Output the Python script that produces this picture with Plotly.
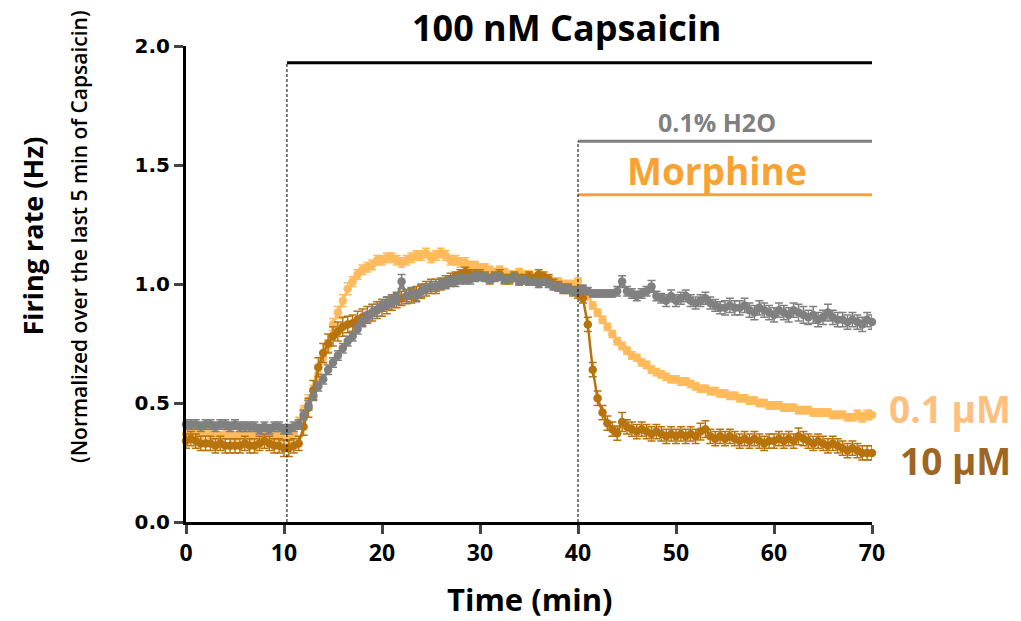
import plotly.graph_objects as go

# ---------------- data ----------------
step = 0.5
n_points = 141
time_min = [i * step for i in range(n_points)]

h2o = [
    0.41, 0.41, 0.41, 0.40, 0.41, 0.41, 0.40, 0.41, 0.41, 0.40,
    0.41, 0.40, 0.40, 0.40, 0.40, 0.39, 0.40, 0.39, 0.40, 0.40,
    0.39, 0.39, 0.40, 0.41, 0.45, 0.49, 0.53, 0.57, 0.60, 0.64,
    0.67, 0.70, 0.73, 0.76, 0.78, 0.81, 0.84, 0.86, 0.88, 0.89,
    0.91, 0.92, 0.93, 0.94, 1.01, 0.95, 0.96, 0.95, 0.97, 0.98,
    0.99, 0.99, 1.00, 1.00, 1.01, 1.01, 1.02, 1.02, 1.02, 1.03,
    1.03, 1.03, 1.02, 1.03, 1.03, 1.02, 1.02, 1.03, 1.01, 1.02,
    1.01, 1.01, 1.00, 1.01, 1.00, 0.99, 0.99, 0.98, 0.98, 0.97,
    0.97, 0.98, 0.97, 0.96, 0.96, 0.96, 0.96, 0.96, 0.97, 1.01,
    0.97, 0.96, 0.95, 0.96, 0.97, 0.99, 0.95, 0.94, 0.93, 0.95,
    0.93, 0.94, 0.95, 0.93, 0.92, 0.93, 0.94, 0.92, 0.91, 0.90,
    0.90, 0.91, 0.90, 0.90, 0.91, 0.89, 0.88, 0.90, 0.89, 0.88,
    0.87, 0.89, 0.88, 0.87, 0.89, 0.88, 0.87, 0.86, 0.87, 0.85,
    0.86, 0.88, 0.86, 0.85, 0.85, 0.84, 0.85, 0.84, 0.83, 0.85,
    0.84,
]
h2o_err = [
    0.02, 0.02, 0.02, 0.02, 0.02, 0.02, 0.02, 0.02, 0.02, 0.02,
    0.02, 0.02, 0.02, 0.02, 0.02, 0.02, 0.02, 0.02, 0.02, 0.02,
    0.02, 0.02, 0.02, 0.02, 0.02, 0.02, 0.02, 0.02, 0.02, 0.02,
    0.02, 0.02, 0.02, 0.02, 0.02, 0.02, 0.02, 0.02, 0.025, 0.025,
    0.025, 0.025, 0.025, 0.025, 0.03, 0.025, 0.025, 0.025, 0.025, 0.02,
    0.02, 0.02, 0.02, 0.02, 0.02, 0.02, 0.02, 0.02, 0.02, 0.02,
    0.015, 0.015, 0.015, 0.015, 0.015, 0.015, 0.015, 0.015, 0.015, 0.015,
    0.015, 0.015, 0.015, 0.015, 0.015, 0.015, 0.015, 0.015, 0.015, 0.015,
    0.015, 0.015, 0.015, 0.015, 0.015, 0.015, 0.015, 0.015, 0.02, 0.025,
    0.02, 0.02, 0.02, 0.02, 0.02, 0.025, 0.02, 0.02, 0.025, 0.025,
    0.025, 0.025, 0.025, 0.025, 0.025, 0.025, 0.025, 0.025, 0.025, 0.025,
    0.03, 0.03, 0.03, 0.03, 0.03, 0.03, 0.03, 0.03, 0.03, 0.03,
    0.03, 0.03, 0.03, 0.03, 0.03, 0.035, 0.035, 0.03, 0.035, 0.03,
    0.03, 0.035, 0.03, 0.03, 0.03, 0.03, 0.03, 0.03, 0.03, 0.03,
    0.03,
]

morph_01 = [
    0.37, 0.38, 0.37, 0.37, 0.38, 0.37, 0.37, 0.36, 0.37, 0.37,
    0.36, 0.37, 0.37, 0.36, 0.37, 0.36, 0.36, 0.37, 0.36, 0.36,
    0.36, 0.35, 0.37, 0.42, 0.47, 0.51, 0.55, 0.62, 0.69, 0.74,
    0.83, 0.88, 0.93, 0.98, 1.01, 1.04, 1.06, 1.07, 1.08, 1.10,
    1.10, 1.11, 1.11, 1.10, 1.09, 1.10, 1.11, 1.12, 1.12, 1.13,
    1.11, 1.12, 1.13, 1.12, 1.10, 1.10, 1.09, 1.09, 1.08, 1.08,
    1.07, 1.07, 1.06, 1.05, 1.06, 1.05, 1.04, 1.04, 1.05, 1.04,
    1.04, 1.03, 1.03, 1.02, 1.02, 1.01, 1.01, 1.00, 1.00, 1.00,
    1.01, 0.98, 0.95, 0.91, 0.88, 0.85, 0.82, 0.79, 0.76, 0.74,
    0.72, 0.70, 0.69, 0.67, 0.66, 0.64, 0.63, 0.62, 0.61, 0.60,
    0.60, 0.59, 0.59, 0.58, 0.57, 0.56, 0.56, 0.55, 0.55, 0.54,
    0.54, 0.53, 0.53, 0.52, 0.52, 0.51, 0.51, 0.50, 0.50, 0.49,
    0.49, 0.49, 0.48, 0.48, 0.48, 0.47, 0.47, 0.47, 0.46, 0.46,
    0.46, 0.46, 0.45, 0.45, 0.45, 0.44, 0.44, 0.45, 0.44, 0.45,
    0.45,
]
morph_01_err = [
    0.02, 0.02, 0.02, 0.02, 0.02, 0.02, 0.02, 0.02, 0.02, 0.02,
    0.02, 0.02, 0.02, 0.02, 0.02, 0.02, 0.02, 0.02, 0.02, 0.02,
    0.02, 0.02, 0.02, 0.02, 0.02, 0.025, 0.025, 0.025, 0.025, 0.025,
    0.025, 0.025, 0.025, 0.025, 0.02, 0.02, 0.02, 0.02, 0.02, 0.02,
    0.02, 0.02, 0.02, 0.02, 0.02, 0.02, 0.02, 0.02, 0.02, 0.02,
    0.02, 0.02, 0.02, 0.02, 0.02, 0.02, 0.02, 0.02, 0.015, 0.015,
    0.015, 0.015, 0.015, 0.015, 0.015, 0.015, 0.015, 0.015, 0.015, 0.015,
    0.015, 0.015, 0.015, 0.015, 0.015, 0.015, 0.015, 0.015, 0.015, 0.015,
    0.015, 0.015, 0.015, 0.015, 0.015, 0.015, 0.015, 0.015, 0.015, 0.015,
    0.015, 0.015, 0.015, 0.015, 0.015, 0.015, 0.015, 0.015, 0.015, 0.015,
    0.015, 0.015, 0.015, 0.015, 0.015, 0.015, 0.015, 0.015, 0.015, 0.015,
    0.015, 0.015, 0.015, 0.015, 0.015, 0.015, 0.015, 0.015, 0.015, 0.015,
    0.015, 0.015, 0.015, 0.015, 0.015, 0.015, 0.015, 0.015, 0.015, 0.015,
    0.015, 0.015, 0.015, 0.015, 0.015, 0.015, 0.015, 0.02, 0.02, 0.02,
    0.02,
]

morph_10 = [
    0.34, 0.35, 0.34, 0.33, 0.33, 0.33, 0.32, 0.33, 0.32, 0.32,
    0.32, 0.32, 0.33, 0.32, 0.32, 0.33, 0.34, 0.33, 0.32, 0.32,
    0.31, 0.31, 0.32, 0.33, 0.40, 0.48, 0.555, 0.65, 0.71, 0.75,
    0.78, 0.80, 0.82, 0.83, 0.835, 0.85, 0.86, 0.87, 0.88, 0.89,
    0.90, 0.91, 0.92, 0.93, 0.94, 0.947, 0.95, 0.96, 0.97, 0.98,
    0.99, 0.99, 1.00, 1.01, 1.02, 1.03, 1.04, 1.05, 1.04, 1.04,
    1.04, 1.03, 1.02, 1.03, 1.04, 1.02, 1.02, 1.03, 1.02, 1.02,
    1.03, 1.02, 1.04, 1.03, 1.02, 1.00, 0.99, 0.98, 0.98, 0.97,
    0.96, 0.94, 0.83, 0.64, 0.52, 0.46, 0.415, 0.39, 0.373, 0.42,
    0.40, 0.39, 0.38, 0.39, 0.38, 0.37, 0.38, 0.37, 0.36, 0.37,
    0.36, 0.37, 0.36, 0.37, 0.36, 0.38, 0.39, 0.36, 0.35, 0.36,
    0.35, 0.36, 0.35, 0.34, 0.35, 0.34, 0.35, 0.34, 0.33, 0.34,
    0.34, 0.35, 0.34, 0.35, 0.34, 0.36, 0.35, 0.34, 0.33, 0.34,
    0.33, 0.32, 0.33, 0.32, 0.31, 0.30, 0.31, 0.30, 0.29, 0.29,
    0.29,
]
morph_10_err = [
    0.03, 0.03, 0.03, 0.03, 0.03, 0.03, 0.03, 0.03, 0.03, 0.03,
    0.03, 0.03, 0.03, 0.03, 0.03, 0.03, 0.03, 0.03, 0.03, 0.03,
    0.035, 0.035, 0.03, 0.03, 0.035, 0.04, 0.04, 0.04, 0.04, 0.04,
    0.04, 0.04, 0.04, 0.035, 0.035, 0.035, 0.035, 0.035, 0.035, 0.035,
    0.035, 0.035, 0.03, 0.03, 0.03, 0.03, 0.03, 0.03, 0.03, 0.03,
    0.03, 0.03, 0.025, 0.025, 0.025, 0.02, 0.02, 0.02, 0.02, 0.02,
    0.02, 0.02, 0.02, 0.02, 0.02, 0.02, 0.02, 0.02, 0.02, 0.02,
    0.02, 0.02, 0.02, 0.02, 0.02, 0.02, 0.02, 0.02, 0.02, 0.02,
    0.02, 0.02, 0.03, 0.03, 0.03, 0.03, 0.03, 0.03, 0.03, 0.04,
    0.03, 0.03, 0.03, 0.03, 0.03, 0.03, 0.03, 0.03, 0.03, 0.03,
    0.03, 0.03, 0.03, 0.03, 0.03, 0.035, 0.035, 0.03, 0.03, 0.03,
    0.03, 0.03, 0.03, 0.03, 0.03, 0.03, 0.03, 0.03, 0.03, 0.03,
    0.03, 0.03, 0.03, 0.03, 0.03, 0.035, 0.03, 0.03, 0.03, 0.03,
    0.03, 0.03, 0.03, 0.03, 0.03, 0.03, 0.03, 0.03, 0.03, 0.03,
    0.03,
]

x_ticks = [0, 10, 20, 30, 40, 50, 60, 70]
y_ticks = [0.0, 0.5, 1.0, 1.5, 2.0]
y_tick_labels = ["0.0", "0.5", "1.0", "1.5", "2.0"]

capsaicin_start = 10.3
drug_start = 40.0
record_end = 70.0
capsaicin_bar_level = 1.93
h2o_bar_level = 1.60
morphine_bar_level = 1.375

# ---------------- layout geometry ----------------
W, H = 1021, 621
L, R, T, B = 186, 149, 46, 99
pw, ph = W - L - R, H - T - B


def px2paper(px, py):
    return (px - L) / pw, (H - B - py) / ph


# ---------------- styles ----------------
C_LIGHT = "#FFBA5C"
C_DARK = "#B8730C"
C_GRAY = "#808080"
C_MORPH = "#F7A233"
FONT = "'Open Sans', Lato, sans-serif"

fig = go.Figure()


def add_series(y, err, color):
    fig.add_trace(go.Scatter(
        x=time_min, y=y,
        mode="lines+markers",
        line=dict(color=color, width=2.5),
        marker=dict(color=color, size=8.5, symbol="circle"),
        error_y=dict(type="data", array=err, visible=True,
                     color=color, thickness=1.5, width=4),
        cliponaxis=False,
        showlegend=False,
        hoverinfo="skip",
    ))


add_series(morph_01, morph_01_err, C_LIGHT)
add_series(morph_10, morph_10_err, C_DARK)
add_series(h2o, h2o_err, C_GRAY)

# treatment bars
fig.add_shape(type="line", xref="x", yref="y",
              x0=capsaicin_start, x1=record_end,
              y0=capsaicin_bar_level, y1=capsaicin_bar_level,
              line=dict(color="black", width=3))
fig.add_shape(type="line", xref="x", yref="y",
              x0=capsaicin_start, x1=capsaicin_start,
              y0=0, y1=capsaicin_bar_level,
              line=dict(color="black", width=1, dash="3px,2px"))
fig.add_shape(type="line", xref="x", yref="y",
              x0=drug_start, x1=record_end,
              y0=h2o_bar_level, y1=h2o_bar_level,
              line=dict(color=C_GRAY, width=3))
fig.add_shape(type="line", xref="x", yref="y",
              x0=drug_start, x1=record_end,
              y0=morphine_bar_level, y1=morphine_bar_level,
              line=dict(color=C_MORPH, width=3))
fig.add_shape(type="line", xref="x", yref="y",
              x0=drug_start, x1=drug_start,
              y0=0, y1=h2o_bar_level,
              line=dict(color="black", width=1, dash="3px,2px"))

fig.add_annotation(x=(capsaicin_start + record_end) / 2 - 1.3, y=capsaicin_bar_level,
                   xref="x", yref="y", yanchor="bottom", yshift=9,
                   text="<b>100 nM Capsaicin</b>", showarrow=False,
                   font=dict(family=FONT, size=36, color="black"))
fig.add_annotation(x=(drug_start + record_end) / 2 - 0.8, y=h2o_bar_level,
                   xref="x", yref="y", yanchor="bottom", yshift=0,
                   text="<b>0.1% H2O</b>", showarrow=False,
                   font=dict(family=FONT, size=25, color=C_GRAY))
fig.add_annotation(x=(drug_start + record_end) / 2 - 0.8, y=morphine_bar_level,
                   xref="x", yref="y", yanchor="bottom", yshift=-3,
                   text="<b>Morphine</b>", showarrow=False,
                   font=dict(family=FONT, size=37, color=C_MORPH))

# series labels at right
rx, _ = px2paper(1013, 0)
fig.add_annotation(x=rx, y=0.478, xref="paper", yref="y",
                   xanchor="right", yanchor="middle",
                   text="<b>0.1 µM</b>", showarrow=False,
                   font=dict(family=FONT, size=37, color="#FFBF7E"))
fig.add_annotation(x=rx, y=0.258, xref="paper", yref="y",
                   xanchor="right", yanchor="middle",
                   text="<b>10 µM</b>", showarrow=False,
                   font=dict(family=FONT, size=37, color="#9E6623"))

# axis titles
tx, ty = px2paper(11, 236)
fig.add_annotation(x=tx, y=ty, xref="paper", yref="paper",
                   text="<b>Firing rate (Hz)</b>", textangle=-90, showarrow=False,
                   font=dict(family=FONT, size=27, color="black"))
sx, sy = px2paper(63, 237)
fig.add_annotation(x=sx, y=sy, xref="paper", yref="paper",
                   text="(Normalized over the last 5 min of Capsaicin)",
                   textangle=-90, showarrow=False,
                   font=dict(family=FONT, size=21, color="black", weight=600))
xx, xy = px2paper(530, 599)
fig.add_annotation(x=xx, y=xy, xref="paper", yref="paper",
                   text="<b>Time (min)</b>", showarrow=False, yanchor="middle",
                   font=dict(family=FONT, size=31, color="black"))

fig.update_layout(
    width=W, height=H,
    margin=dict(l=L, r=R, t=T, b=B, pad=0),
    plot_bgcolor="white", paper_bgcolor="white",
    xaxis=dict(range=[0, 70], tickvals=x_ticks, ticks="outside", ticklen=9,
               tickwidth=2.5, linecolor="black", linewidth=2.5, showline=True,
               showgrid=False, zeroline=False,
               tickfont=dict(family=FONT, size=23, color="black", weight="bold")),
    yaxis=dict(range=[0, 2.0], tickvals=y_ticks, ticktext=y_tick_labels,
               ticks="outside", ticklen=9, tickwidth=2.5,
               linecolor="black", linewidth=3, showline=True,
               showgrid=False, zeroline=False,
               tickfont=dict(family="DejaVu Sans", size=20, color="black",
                             weight="bold")),
)

fig.write_html("out.html", config={"displayModeBar": False},
               post_script="document.body.style.margin='0';")
